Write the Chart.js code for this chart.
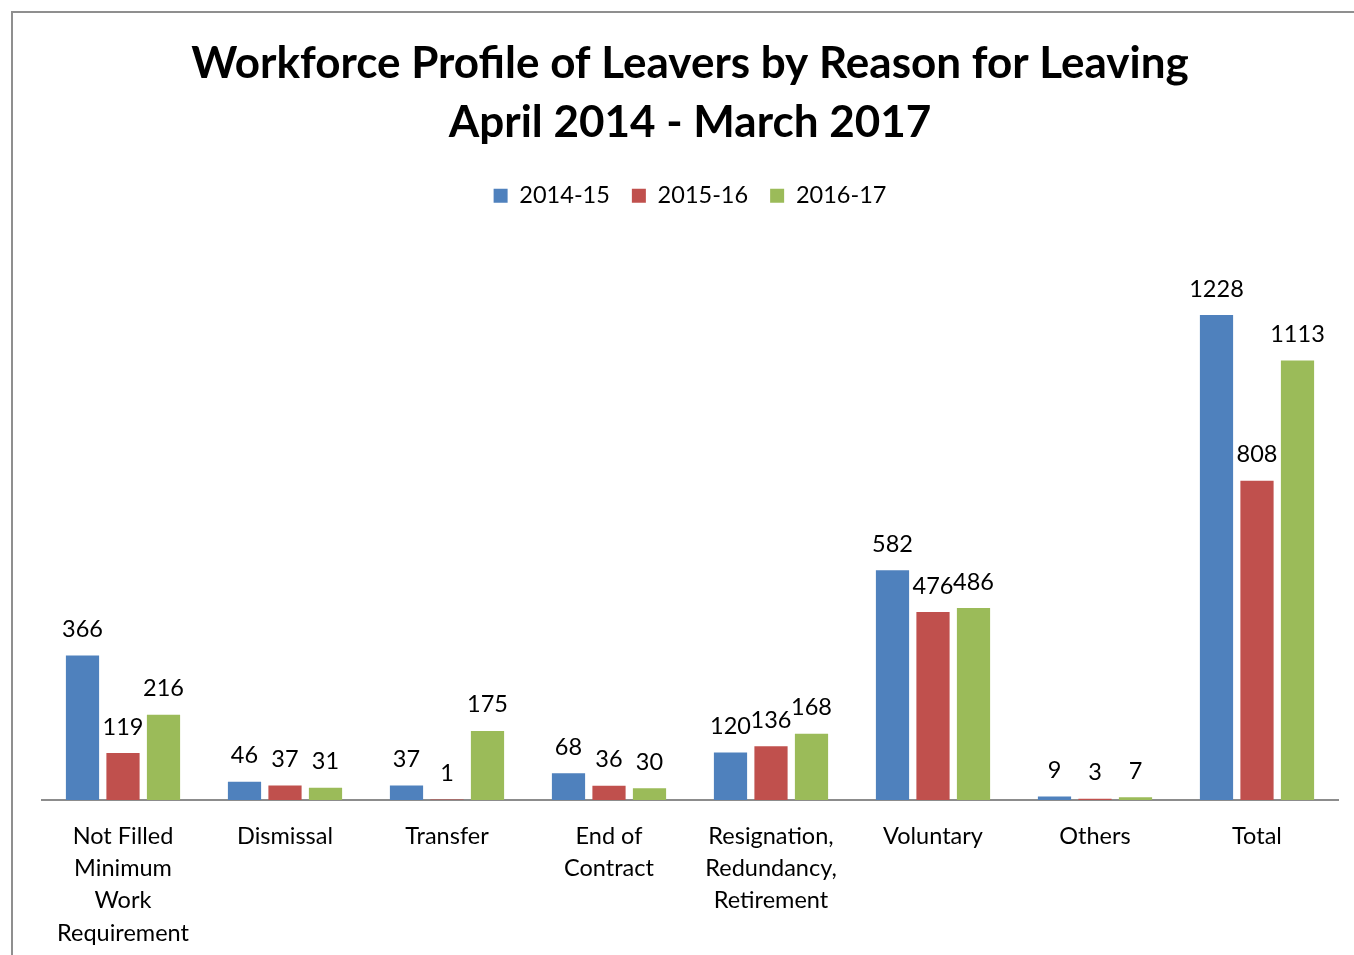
<!DOCTYPE html>
<html>
<head>
<meta charset="utf-8">
<script src="https://cdn.jsdelivr.net/npm/chart.js@4/dist/chart.umd.min.js"></script>
<style>
  html, body { margin: 0; padding: 0; background: #fff; overflow: hidden; width: 1354px; height: 955px; }
  #frame { position: absolute; left: 11px; top: 11px; width: 1400px; height: 1000px; border-left: 2px solid #8f8f8f; border-top: 2px solid #8f8f8f; }
  #wrap { position: absolute; left: 13px; top: 13px; width: 1352px; height: 942px; }
</style>
</head>
<body>
<div id="frame"></div>
<div id="wrap"><canvas id="c"></canvas></div>
<script>
const categories = [
  ["Not Filled", "Minimum", "Work", "Requirement"],
  "Dismissal",
  "Transfer",
  ["End of", "Contract"],
  ["Resignation,", "Redundancy,", "Retirement"],
  "Voluntary",
  "Others",
  "Total"
];
const seriesNames = ["2014-15", "2015-16", "2016-17"];
const values2014 = [366, 46, 37, 68, 120, 582, 9, 1228];
const values2015 = [119, 37, 1, 36, 136, 476, 3, 808];
const values2016 = [216, 31, 175, 30, 168, 486, 7, 1113];
const colors = ["#4F81BD", "#C0504D", "#9BBB59"];
const titleLines = ["Workforce Profile of Leavers by Reason for Leaving", "April 2014 - March 2017"];

const FONT = "Lato, 'Open Sans', sans-serif";
const LABEL_SIZE = 23.5;

const valueLabels = {
  id: "valueLabels",
  afterDatasetsDraw(chart) {
    const ctx = chart.ctx;
    ctx.save();
    ctx.font = LABEL_SIZE + "px " + FONT;
    ctx.fillStyle = "#000";
    ctx.textAlign = "center";
    ctx.textBaseline = "middle";
    chart.data.datasets.forEach((ds, i) => {
      const meta = chart.getDatasetMeta(i);
      meta.data.forEach((bar, j) => {
        ctx.fillText(String(ds.data[j]), bar.x, bar.y - 26);
      });
    });
    ctx.restore();
  }
};

const allSeries = [values2014, values2015, values2016];

new Chart(document.getElementById("c"), {
  type: "bar",
  data: {
    labels: categories,
    datasets: allSeries.map((d, i) => ({
      label: seriesNames[i],
      data: d,
      backgroundColor: colors[i],
      borderWidth: 0,
      barPercentage: 0.82,
      categoryPercentage: 0.75
    }))
  },
  options: {
    responsive: true,
    maintainAspectRatio: false,
    animation: false,
    layout: { padding: { left: 29, right: 27, top: 0, bottom: 0 } },
    plugins: {
      title: {
        display: true,
        text: titleLines,
        color: "#000",
        font: { family: FONT, size: 44, weight: "bold", lineHeight: 1.34 },
        padding: { top: 21, bottom: 10 }
      },
      legend: {
        display: true,
        position: "top",
        labels: {
          color: "#000",
          font: { family: FONT, size: LABEL_SIZE },
          boxWidth: 14,
          boxHeight: 14,
          padding: 22
        }
      },
      tooltip: { enabled: false }
    },
    scales: {
      x: {
        grid: { display: false, drawTicks: false },
        border: { display: true, color: "#8c8c8c", width: 2 },
        ticks: {
          color: "#000",
          font: { family: FONT, size: LABEL_SIZE, lineHeight: 1.375 },
          padding: 20,
          maxRotation: 0,
          autoSkip: false
        },
        afterFit(scale) { scale.height = 155; }
      },
      y: {
        display: false,
        min: 0,
        max: 1475
      }
    }
  },
  plugins: [valueLabels]
});
</script>
</body>
</html>
